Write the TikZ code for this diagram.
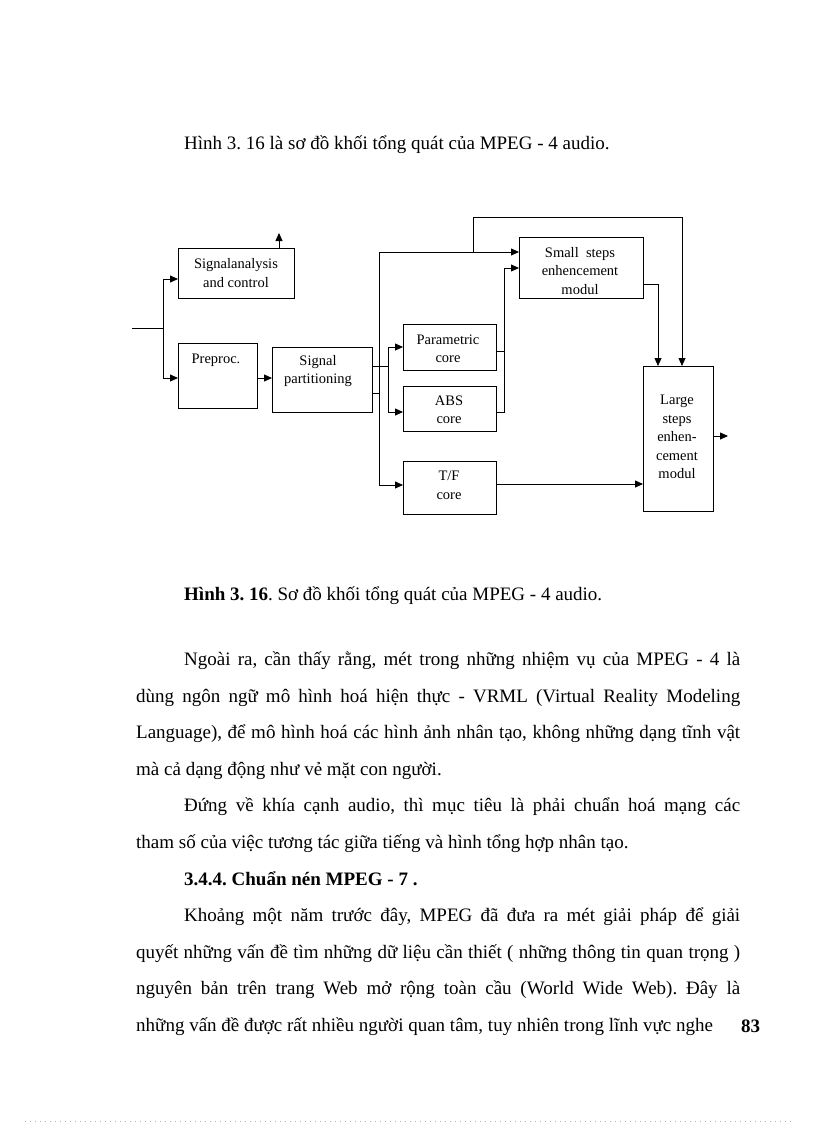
\documentclass[tikz,border=0pt]{standalone}
\usepackage{fontspec}
\setmainfont{Liberation Serif}
\usetikzlibrary{arrows.meta,calc}
\frenchspacing
\begin{document}
\begin{tikzpicture}[x=1pt,y=-1pt,
  box/.style={draw,line width=0.8pt,inner sep=0pt,anchor=north west},
  lbl/.style={font=\fontsize{14.5}{18.5}\selectfont,align=center,inner sep=0pt},
  arr/.style={-{Triangle[length=8pt,width=7pt]}},
  wire/.style={line width=0.8pt},
  body/.style={font=\fontsize{19}{22}\selectfont,anchor=base west,inner sep=0pt}]
\useasboundingbox[fill=white] (0,0) rectangle (816,1123);

% boxes
\node[box,minimum width=116pt,minimum height=50pt] (sa) at (178,248) {};
\node[box,minimum width=79pt,minimum height=65pt] (pp) at (178,343) {};
\node[box,minimum width=100pt,minimum height=65pt] (sp) at (272,347) {};
\node[box,minimum width=93pt,minimum height=46pt] (par) at (403,324) {};
\node[box,minimum width=93pt,minimum height=45pt] (abs) at (403,386) {};
\node[box,minimum width=93pt,minimum height=53pt] (tf) at (403,461) {};
\node[box,minimum width=124pt,minimum height=61pt] (ss) at (519,237) {};
\node[box,minimum width=70pt,minimum height=145pt] (lg) at (643,366) {};

% labels
\node[lbl] (tsa) at (236,273) {Signalanalysis\\and control};
\node[lbl] (tpp) at (216,360) {Preproc.};
\node[lbl] (tsp) at (318,371) {Signal\\partitioning};
\node[lbl] (tpar) at (448,349) {Parametric\\core};
\node[lbl] (tabs) at (449,410) {ABS\\core};
\node[lbl] (ttf) at (449,485.5) {T/F\\core};
\node[lbl] (tss) at (580,271) {Small\ \ steps\\enhencement\\modul};
\node[lbl] (tlg) at (677,437) {Large\\steps\\enhen-\\cement\\modul};

% connectors
\coordinate (in) at (132,328);
\coordinate (j1) at (163,328);
\draw[wire] (in) -- (j1);
\draw[wire,arr] (j1) |- ($(sa.north west)+(0,31)$);
\draw[wire,arr] (j1) |- ($(pp.north west)+(0,35)$);
\coordinate (saout) at (279,233);
\draw[wire,arr] (sa.north -| saout) -- (saout);
\draw[wire,arr] ($(pp.north east)+(0,35)$) -- ($(sp.north west)+(0,31)$);
\coordinate (j2) at (388,366);
\draw[wire] ($(sp.north east)+(0,19)$) -- (j2);
\draw[wire,arr] (j2) |- ($(par.north west)+(0,23)$);
\draw[wire,arr] (j2) |- ($(abs.north west)+(0,26)$);
\coordinate (j3) at (379,393);
\draw[wire] ($(sp.north east)+(0,46)$) -- (j3);
\draw[wire,arr] (j3) |- ($(ss.north west)+(0,15)$);
\draw[wire,arr] (j3) |- ($(tf.north west)+(0,24)$);
\coordinate (j4) at (473,252);
\coordinate (top) at (682,217);
\draw[wire,arr] (j4) -- (j4 |- top) -- (top) -- (lg.north -| top);
\coordinate (j5) at (504,268);
\draw[wire] ($(par.north east)+(0,27)$) -| (j5);
\draw[wire] ($(abs.north east)+(0,26)$) -| (j5);
\draw[wire,arr] (j5) -- (ss.west |- j5);
\coordinate (j6) at (658,284);
\draw[wire,arr] ($(ss.north east)+(0,47)$) -| (lg.north -| j6);
\coordinate (tfo) at ($(tf.north east)+(0,23)$);
\draw[wire,arr] (tfo) -- (lg.west |- tfo);
\coordinate (out) at (728,436);
\draw[wire,arr] (lg.east |- out) -- (out);

% body text
\node[body] (l0) at (184,150) {Hình 3. 16 là sơ đồ khối tổng quát của MPEG - 4 audio.};
\node[body] (cap) at (184,600) {\textbf{Hình 3. 16}. Sơ đồ khối tổng quát của MPEG - 4 audio.};
\node[body] (p1) at (184,665) {\makebox[556pt][s]{Ngoài ra, cần thấy rằng, mét trong những nhiệm vụ của MPEG - 4 là}};
\node[body] (p2) at (136,702) {\makebox[604pt][s]{dùng ngôn ngữ mô hình hoá hiện thực - VRML (Virtual Reality Modeling}};
\node[body] (p3) at (136,738) {\makebox[604pt][s]{Language), để mô hình hoá các hình ảnh nhân tạo, không những dạng tĩnh vật}};
\node[body] (p4) at (136,775) {mà cả dạng động như vẻ mặt con người.};
\node[body] (p5) at (184,811) {\makebox[556pt][s]{Đứng về khía cạnh audio, thì mục tiêu là phải chuẩn hoá mạng các}};
\node[body] (p6) at (136,848) {tham số của việc tương tác giữa tiếng và hình tổng hợp nhân tạo.};
\node[body] (h) at (184,885) {\textbf{3.4.4. Chuẩn nén MPEG - 7 .}};
\node[body] (p7) at (184,921) {\makebox[556pt][s]{Khoảng một năm trước đây, MPEG đã đưa ra mét giải pháp để giải}};
\node[body] (p8) at (136,958) {\makebox[604pt][s]{quyết những vấn đề tìm những dữ liệu cần thiết ( những thông tin quan trọng )}};
\node[body] (p9) at (136,994) {\makebox[604pt][s]{nguyên bản trên trang Web mở rộng toàn cầu (World Wide Web). Đây là}};
\node[body] (p10) at (136,1031) {những vấn đề được rất nhiều người quan tâm, tuy nhiên trong lĩnh vực nghe};
\node[body] (pg) at (741,1032) {\textbf{83}};

% bottom dotted rule
\coordinate (dl) at (25,1121);
\coordinate (dr) at (792,1121);
\draw[gray!60,line width=0.6pt,dash pattern=on 0.8pt off 4.2pt] (dl) -- (dr);
\end{tikzpicture}
\end{document}
